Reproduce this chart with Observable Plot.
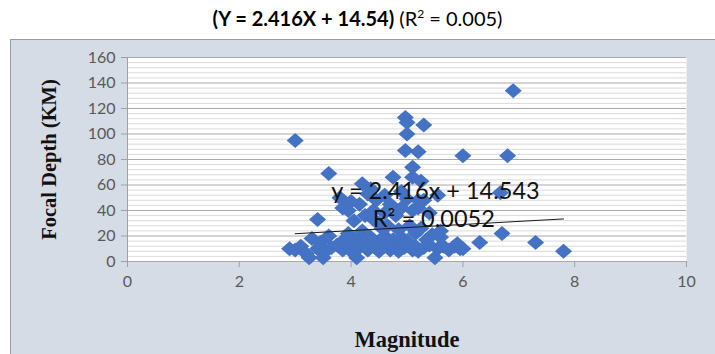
<!DOCTYPE html>
<html>
<head>
<meta charset="utf-8">
<script src="https://cdn.jsdelivr.net/npm/d3@7"></script>
<script src="https://cdn.jsdelivr.net/npm/@observablehq/plot@0.6"></script>
<style>
  body { margin: 0; background: #ffffff; width: 715px; height: 354px; position: relative; overflow: hidden; }
  #title { position: absolute; left: 0; top: 0; width: 715px; height: 38px; text-align: center;
           font-family: Lato, "Open Sans", sans-serif; font-size: 20px; line-height: 36px; color: #000; }
  #panel { position: absolute; left: 10px; top: 39px; width: 705px; height: 315px; background: #d6dce5;
           border-left: 1px solid #9a9a9a; border-top: 1px solid #9a9a9a; }
  #chart { position: absolute; left: 0; top: 39px; }
</style>
</head>
<body>
<div id="title"><b>(Y = 2.416X + 14.54)</b> (R<sup style="font-size:12px;vertical-align:8px;line-height:0">2</sup> = 0.005)</div>
<div id="panel"></div>
<div id="chart"></div>
<script>
// ---- data ----
const magnitude = [
  2.9, 3.0, 3.1, 3.2, 3.25, 3.4, 3.5, 3.55, 3.65, 3.75, 3.85, 3.95, 4.0, 4.1, 4.15, 4.25, 4.3, 4.4, 4.5, 4.55,
  4.65, 4.7, 4.8, 4.85, 4.95, 5.0, 5.1, 5.15, 5.2, 5.3, 5.4, 5.5, 5.55, 5.65, 5.75, 5.85, 5.95, 6.0, 7.8,
  3.3, 3.45, 3.6, 3.85, 3.95, 4.1, 4.2, 4.35, 4.45, 4.55, 4.6, 4.75, 4.85, 4.9, 5.0, 5.05, 5.15, 5.25, 5.35,
  5.45, 5.6, 5.6, 5.9, 6.3, 6.7, 7.3,
  3.4, 3.85, 3.95, 3.8, 4.2, 4.35, 4.3, 4.45, 4.25, 4.5, 4.7, 4.75, 4.8, 4.9, 5.0, 5.1, 5.2, 5.25, 5.1, 5.3,
  5.4, 5.55, 6.67, 4.05, 4.15, 4.6, 4.4, 4.0, 4.6, 4.9, 5.2, 4.4, 4.65,
  3.0, 3.6, 4.97, 5.0, 5.3, 5.0, 4.97, 5.2, 5.1, 6.0, 6.8, 6.9
];
const depth = [
  10, 9, 12, 6, 3, 10, 3, 8, 11, 13, 9, 12, 8, 3, 11, 13, 9, 12, 8, 11,
  13, 9, 12, 8, 11, 13, 9, 12, 8, 11, 13, 3, 10, 12, 9, 12, 10, 10, 8,
  18, 15, 20, 16, 22, 17, 24, 19, 15, 26, 20, 17, 25, 19, 16, 28, 22, 26, 17,
  21, 19, 24, 14, 15, 22, 15,
  33, 42, 40, 50, 61, 57, 53, 48, 36, 30, 45, 66, 36, 42, 49, 40, 48, 63, 66, 48,
  38, 52, 54, 32, 45, 38, 40, 47, 52, 55, 42, 33, 28,
  95, 69, 113, 100, 107, 109, 87, 86, 74, 83, 83, 134
];
const xTicks = [0, 2, 4, 6, 8, 10];
const yTicks = [0, 20, 40, 60, 80, 100, 120, 140, 160];
const yMinor = d3.range(0, 161, 4).filter(v => v % 20 !== 0);
const trendSlope = 2.416;
const trendIntercept = 14.543;
const trendRange = [3.0, 7.8];
const trendLabel = "y = 2.416x + 14.543";
const r2Label = "R² = 0.0052";
const xLabel = "Magnitude";
const yLabel = "Focal Depth (KM)";

const points = magnitude.map((m, i) => ({m, d: depth[i]}));
const trend = trendRange.map(x => ({x, y: trendSlope * x + trendIntercept}));

const diamond = {
  draw(ctx) {
    ctx.moveTo(0, -7.5); ctx.lineTo(8.5, 0); ctx.lineTo(0, 7.5); ctx.lineTo(-8.5, 0); ctx.closePath();
  }
};

const tickFont = "Lato, 'Open Sans', sans-serif";
const serif = "'Liberation Serif', 'DejaVu Serif', serif";
const chart = Plot.plot({
  width: 715,
  height: 315,
  marginLeft: 127,
  marginRight: 29,
  marginTop: 18,
  marginBottom: 93,
  style: {background: "transparent", overflow: "visible"},
  x: {domain: [0, 10]},
  y: {domain: [0, 160]},
  marks: [
    Plot.frame({fill: "white", stroke: null}),
    Plot.ruleY(yMinor, {stroke: "#d9d9d9", strokeWidth: 1}),
    Plot.ruleY(yTicks, {stroke: "#a9a9a9", strokeWidth: 1}),
    Plot.ruleX([0], {stroke: "#a0a0a0"}),
    Plot.axisX(xTicks, {tickSize: 6, stroke: "#a0a0a0", color: "#595959", fontSize: 16,
      fontFamily: tickFont, tickPadding: 8, label: null, tickFormat: d => d}),
    Plot.axisY(yTicks, {tickSize: 6, stroke: "#a0a0a0", color: "#595959", fontSize: 16,
      fontFamily: tickFont, tickPadding: 6, label: null, tickFormat: d => d}),
    Plot.dot(points, {x: "m", y: "d", symbol: diamond, fill: "#4472c4", stroke: null, r: 6}),
    Plot.line(trend, {x: "x", y: "y", stroke: "#1a1a1a", strokeWidth: 1}),
    Plot.text([trendLabel], {x: 5.51, y: 55, fontSize: 23.5, fontFamily: tickFont, fill: "#111"}),
    Plot.text([r2Label], {x: 5.48, y: 33, fontSize: 23.5, fontFamily: tickFont, fill: "#111"}),
    Plot.text([yLabel], {frameAnchor: "left", dx: -78, rotate: -90, textAnchor: "middle", lineAnchor: "middle",
      fontSize: 20.5, fontWeight: "bold", fontFamily: serif, fill: "#111"}),
    Plot.text([xLabel], {frameAnchor: "bottom", dy: 78, lineAnchor: "middle", fontSize: 22.5, fontWeight: "bold",
      fontFamily: serif, fill: "#111"})
  ]
});
document.getElementById("chart").appendChild(chart);
</script>
</body>
</html>
